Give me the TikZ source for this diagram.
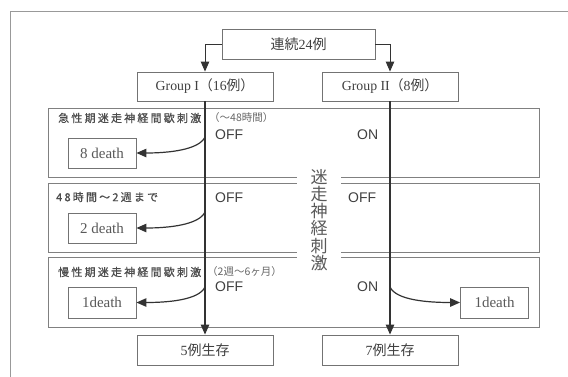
\documentclass[tikz,border=0pt]{standalone}
\usepackage{fontspec}
\setmainfont{Liberation Serif}
\newfontfamily\cjk{Noto Sans CJK JP}
\newfontfamily\cjkls[LetterSpace=20,FakeBold=0.6]{Noto Sans CJK JP}
\newfontfamily\arial{Liberation Sans}
\usetikzlibrary{arrows.meta}
\begin{document}
\begin{tikzpicture}[x=1pt,y=-1pt,
  box/.style={draw=black!55, line width=0.9pt, fill=white, inner sep=0pt, text=black!75},
  phasebox/.style={draw=black!50, line width=1pt},
  gline/.style={draw=black!80, line width=1.2pt},
  tip/.style={-{Triangle[length=10pt,width=8.5pt]}},
  label/.style={anchor=west, inner sep=0pt, text=black!70, font=\cjkls\fontsize{11}{13}\selectfont},
  paren/.style={anchor=west, inner sep=0pt, text=black!60, font=\cjk\fontsize{10.5}{12}\selectfont},
  onoff/.style={anchor=west, inner sep=0pt, text=black!75, font=\arial\fontsize{14}{16}\selectfont},
  death/.style={box, minimum width=68pt, minimum height=30pt, font=\fontsize{15}{17}\selectfont, text=black!65},
  grp/.style={box, minimum width=136pt, minimum height=29pt, font=\fontsize{13.8}{16}\selectfont},
  surv/.style={box, minimum width=136pt, minimum height=30pt, font=\fontsize{14}{16}\selectfont}
]
\useasboundingbox (0,0) rectangle (568,376);
\clip (0,0) rectangle (568,376);
\fill[white] (0,0) rectangle (568,376);
% outer frame
\draw[black!40, line width=1pt] (10,400) -- (10,11) -- (600,11);

% phase boxes
\draw[phasebox] (48,108) rectangle (539,177);
\draw[phasebox] (48,183) rectangle (539,252);
\draw[phasebox] (48,257) rectangle (539,327);

% vertical text
\node[fill=white, inner xsep=0pt, inner ysep=2pt, minimum width=44pt, align=center,
      font=\cjk\fontsize{17}{17.3}\selectfont, text=black!65] (vt) at (319,220)
      {迷\\走\\神\\経\\刺\\激};

% top and group boxes
\node[box, minimum width=153pt, minimum height=30pt, font=\fontsize{14}{16}\selectfont] (top) at (298.5,44) {{\cjk 連続}24{\cjk 例}};
\node[grp] (g1) at (205,86.5) {Group I{\cjk （}16{\cjk 例）}};
\node[grp] (g2) at (390,86.5) {Group II{\cjk （}8{\cjk 例）}};

% death boxes
\node[death] (d1) at (102,153) {8 death};
\node[death] (d2) at (102,228) {2 death};
\node[death, minimum height=31pt] (d3) at (102,302.5) {1death};
\node[death, minimum height=31pt] (d4) at (494.5,302.5) {1death};

% survival boxes
\node[surv] (s1) at (205,350) {5{\cjk 例生存}};
\node[surv] (s2) at (390,350) {7{\cjk 例生存}};

% phase labels
\node[label] (p1) at (58,118) {急性期迷走神経間歇刺激};
\node[paren] (q1) at (209,118) {（～48時間）};
\node[label] (p2) at (56,197) {48時間～2週まで};
\node[label] (p3) at (58,272) {慢性期迷走神経間歇刺激};
\node[paren] (q3) at (207,272) {（2週～6ヶ月）};

% ON/OFF
\node[onoff] (o11) at (215,135) {OFF};
\node[onoff] (o12) at (357,135) {ON};
\node[onoff] (o21) at (215,198) {OFF};
\node[onoff] (o22) at (348,198) {OFF};
\node[onoff] (o31) at (215,287) {OFF};
\node[onoff] (o32) at (357,287) {ON};

% connectors
\draw[gline, line width=1pt, tip] (top.west) -| (g1.north);
\draw[gline, line width=1pt, tip] (top.east) -| (g2.north);
\draw[gline, tip] (g1.south) -- (s1.north);
\draw[gline, tip] (g2.south) -- (s2.north);

\coordinate (a1) at (205,137);
\coordinate (a2) at (205,212);
\coordinate (a3) at (205,287);
\coordinate (a4) at (390,287);
\draw[gline, tip] (a1) .. controls (199,150) and (168,153) .. (d1.east);
\draw[gline, tip] (a2) .. controls (199,225) and (168,228) .. (d2.east);
\draw[gline, tip] (a3) .. controls (199,300) and (168,302.5) .. (d3.east);
\draw[gline, tip] (a4) .. controls (396,300) and (427,302.5) .. (d4.west);
\end{tikzpicture}
\end{document}
